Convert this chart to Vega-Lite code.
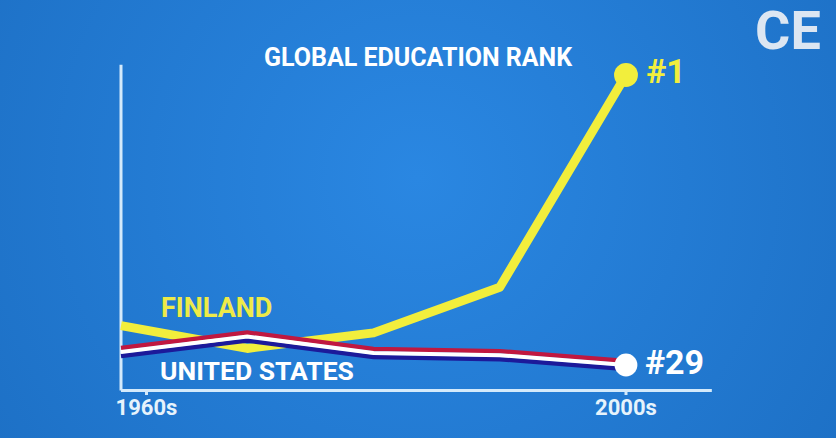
{
  "$schema": "https://vega.github.io/schema/vega-lite/v6.json",
  "width": 836,
  "height": 438,
  "autosize": {"type": "fit", "contains": "padding"},
  "padding": 0,
  "background": "#1d72c9",
  "config": {
    "view": {"stroke": null, "fill": {"gradient": "radial", "x1": 0.5, "y1": 0.45, "x2": 0.5, "y2": 0.45, "r1": 0, "r2": 0.75, "stops": [{"offset": 0, "color": "#2a87e2"}, {"offset": 1, "color": "#1a6bbf"}]}},
    "text": {"font": "Roboto", "fontWeight": "bold"}
  },
  "datasets": {
    "ranks": [
      {"country": "Finland", "year": 1960, "rank": 25.2},
      {"country": "Finland", "year": 1970, "rank": 27.4},
      {"country": "Finland", "year": 1980, "rank": 25.9},
      {"country": "Finland", "year": 1990, "rank": 21.5},
      {"country": "Finland", "year": 2000, "rank": 1},
      {"country": "United States", "year": 1960, "rank": 27.75},
      {"country": "United States", "year": 1970, "rank": 26.25},
      {"country": "United States", "year": 1980, "rank": 27.85},
      {"country": "United States", "year": 1990, "rank": 28.05},
      {"country": "United States", "year": 2000, "rank": 29}
    ],
    "axes": [
      {"part": "yaxis", "year": 1960, "year2": 1960, "rank": 0, "rank2": 31.46},
      {"part": "xaxis", "year": 1960, "year2": 2006.8, "rank": 31.46, "rank2": 31.46},
      {"part": "tick", "year": 1962.02, "year2": 1962.02, "rank": 31.46, "rank2": 31.9},
      {"part": "tick", "year": 2000, "year2": 2000, "rank": 31.46, "rank2": 31.9}
    ]
  },
  "layer": [
    {
      "data": {"name": "axes"},
      "mark": {"type": "rule", "color": "#d4eafb", "strokeWidth": 3},
      "encoding": {
        "x": {"field": "year", "type": "quantitative", "scale": {"domain": [1950.416, 2016.634], "nice": false, "zero": false}, "axis": null},
        "x2": {"field": "year2"},
        "y": {"field": "rank", "type": "quantitative", "scale": {"domain": [-6.24, 36.05], "reverse": true, "nice": false, "zero": false}, "axis": null},
        "y2": {"field": "rank2"}
      }
    },
    {
      "data": {"name": "ranks"},
      "transform": [{"filter": "datum.country === 'Finland'"}],
      "mark": {"type": "line", "color": "#f2ee3c", "strokeWidth": 9, "strokeJoin": "round"},
      "encoding": {
        "x": {"field": "year", "type": "quantitative", "scale": {"domain": [1950.416, 2016.634], "nice": false, "zero": false}, "axis": null},
        "y": {"field": "rank", "type": "quantitative", "scale": {"domain": [-6.24, 36.05], "reverse": true, "nice": false, "zero": false}, "axis": null}
      }
    },
    {
      "data": {"name": "ranks"},
      "transform": [{"filter": "datum.country === 'United States'"}],
      "mark": {"type": "line", "color": "#1c1a9a", "strokeWidth": 4.5, "yOffset": 4},
      "encoding": {
        "x": {"field": "year", "type": "quantitative", "scale": {"domain": [1950.416, 2016.634], "nice": false, "zero": false}, "axis": null},
        "y": {"field": "rank", "type": "quantitative", "scale": {"domain": [-6.24, 36.05], "reverse": true, "nice": false, "zero": false}, "axis": null}
      }
    },
    {
      "data": {"name": "ranks"},
      "transform": [{"filter": "datum.country === 'United States'"}],
      "mark": {"type": "line", "color": "#c01840", "strokeWidth": 4.5, "yOffset": -4},
      "encoding": {
        "x": {"field": "year", "type": "quantitative", "scale": {"domain": [1950.416, 2016.634], "nice": false, "zero": false}, "axis": null},
        "y": {"field": "rank", "type": "quantitative", "scale": {"domain": [-6.24, 36.05], "reverse": true, "nice": false, "zero": false}, "axis": null}
      }
    },
    {
      "data": {"name": "ranks"},
      "transform": [{"filter": "datum.country === 'United States'"}],
      "mark": {"type": "line", "color": "#ffffff", "strokeWidth": 4},
      "encoding": {
        "x": {"field": "year", "type": "quantitative", "scale": {"domain": [1950.416, 2016.634], "nice": false, "zero": false}, "axis": null},
        "y": {"field": "rank", "type": "quantitative", "scale": {"domain": [-6.24, 36.05], "reverse": true, "nice": false, "zero": false}, "axis": null}
      }
    },
    {
      "data": {"name": "ranks"},
      "transform": [{"filter": "datum.country === 'Finland' && datum.year === 2000"}],
      "mark": {"type": "circle", "color": "#f2ee3c", "opacity": 1, "size": 570},
      "encoding": {
        "x": {"field": "year", "type": "quantitative", "scale": {"domain": [1950.416, 2016.634], "nice": false, "zero": false}, "axis": null},
        "y": {"field": "rank", "type": "quantitative", "scale": {"domain": [-6.24, 36.05], "reverse": true, "nice": false, "zero": false}, "axis": null}
      }
    },
    {
      "data": {"name": "ranks"},
      "transform": [{"filter": "datum.country === 'United States' && datum.year === 2000"}],
      "mark": {"type": "circle", "color": "#ffffff", "opacity": 1, "size": 520},
      "encoding": {
        "x": {"field": "year", "type": "quantitative", "scale": {"domain": [1950.416, 2016.634], "nice": false, "zero": false}, "axis": null},
        "y": {"field": "rank", "type": "quantitative", "scale": {"domain": [-6.24, 36.05], "reverse": true, "nice": false, "zero": false}, "axis": null}
      }
    },
    {
      "data": {"values": [
        {"label": "GLOBAL EDUCATION RANK", "year": 1983.53, "rank": -0.64}
      ]},
      "mark": {"type": "text", "color": "#ffffff", "fontSize": 25, "align": "center", "baseline": "middle"},
      "encoding": {
        "text": {"field": "label"},
        "x": {"field": "year", "type": "quantitative", "scale": {"domain": [1950.416, 2016.634], "nice": false, "zero": false}, "axis": null},
        "y": {"field": "rank", "type": "quantitative", "scale": {"domain": [-6.24, 36.05], "reverse": true, "nice": false, "zero": false}, "axis": null}
      }
    },
    {
      "data": {"values": [
        {"label": "#1", "year": 2001.6, "rank": 0.83}
      ]},
      "mark": {"type": "text", "color": "#f2ee3c", "fontSize": 34, "align": "left", "baseline": "middle"},
      "encoding": {
        "text": {"field": "label"},
        "x": {"field": "year", "type": "quantitative", "scale": {"domain": [1950.416, 2016.634], "nice": false, "zero": false}, "axis": null},
        "y": {"field": "rank", "type": "quantitative", "scale": {"domain": [-6.24, 36.05], "reverse": true, "nice": false, "zero": false}, "axis": null}
      }
    },
    {
      "data": {"values": [
        {"label": "#29", "year": 2001.5, "rank": 28.86}
      ]},
      "mark": {"type": "text", "color": "#ffffff", "fontSize": 34, "align": "left", "baseline": "middle"},
      "encoding": {
        "text": {"field": "label"},
        "x": {"field": "year", "type": "quantitative", "scale": {"domain": [1950.416, 2016.634], "nice": false, "zero": false}, "axis": null},
        "y": {"field": "rank", "type": "quantitative", "scale": {"domain": [-6.24, 36.05], "reverse": true, "nice": false, "zero": false}, "axis": null}
      }
    },
    {
      "data": {"values": [
        {"label": "FINLAND", "year": 1963.17, "rank": 23.59}
      ]},
      "mark": {"type": "text", "color": "#eeea48", "fontSize": 27, "align": "left", "baseline": "middle"},
      "encoding": {
        "text": {"field": "label"},
        "x": {"field": "year", "type": "quantitative", "scale": {"domain": [1950.416, 2016.634], "nice": false, "zero": false}, "axis": null},
        "y": {"field": "rank", "type": "quantitative", "scale": {"domain": [-6.24, 36.05], "reverse": true, "nice": false, "zero": false}, "axis": null}
      }
    },
    {
      "data": {"values": [
        {"label": "UNITED STATES", "year": 1963.09, "rank": 29.68}
      ]},
      "mark": {"type": "text", "color": "#ffffff", "fontSize": 26.5, "align": "left", "baseline": "middle"},
      "encoding": {
        "text": {"field": "label"},
        "x": {"field": "year", "type": "quantitative", "scale": {"domain": [1950.416, 2016.634], "nice": false, "zero": false}, "axis": null},
        "y": {"field": "rank", "type": "quantitative", "scale": {"domain": [-6.24, 36.05], "reverse": true, "nice": false, "zero": false}, "axis": null}
      }
    },
    {
      "data": {"values": [
        {"label": "1960s", "year": 1962.02, "rank": 33.2},
        {"label": "2000s", "year": 2000, "rank": 33.2}
      ]},
      "mark": {"type": "text", "color": "#e6f3fc", "fontSize": 22, "align": "center", "baseline": "middle"},
      "encoding": {
        "text": {"field": "label"},
        "x": {"field": "year", "type": "quantitative", "scale": {"domain": [1950.416, 2016.634], "nice": false, "zero": false}, "axis": null},
        "y": {"field": "rank", "type": "quantitative", "scale": {"domain": [-6.24, 36.05], "reverse": true, "nice": false, "zero": false}, "axis": null}
      }
    },
    {
      "data": {"values": [
        {"label": "CE", "year": 2012.83, "rank": -3.05}
      ]},
      "mark": {"type": "text", "color": "#dce6f2", "fontSize": 54, "align": "center", "baseline": "middle"},
      "encoding": {
        "text": {"field": "label"},
        "x": {"field": "year", "type": "quantitative", "scale": {"domain": [1950.416, 2016.634], "nice": false, "zero": false}, "axis": null},
        "y": {"field": "rank", "type": "quantitative", "scale": {"domain": [-6.24, 36.05], "reverse": true, "nice": false, "zero": false}, "axis": null}
      }
    }
  ]
}
